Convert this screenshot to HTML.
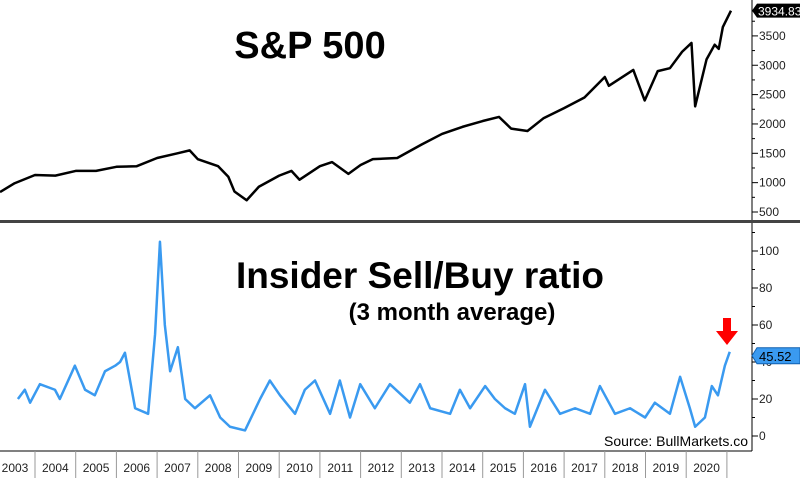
<!DOCTYPE html>
<html><head><meta charset="utf-8"><style>
body{margin:0;background:#fff;}
svg{display:block;font-family:"Liberation Sans",Arial,sans-serif;}
</style></head><body>
<svg id="c" width="800" height="478"></svg>
<script>
const spDates=[2003.14,2003.5,2004,2004.5,2005,2005.5,2006,2006.5,2007,2007.5,2007.8,2008,2008.5,2008.75,2008.9,2009.2,2009.5,2010,2010.3,2010.5,2011,2011.3,2011.7,2012,2012.3,2012.9,2013.5,2014,2014.5,2015,2015.4,2015.7,2016.1,2016.5,2017,2017.5,2018,2018.1,2018.7,2018.98,2019.3,2019.6,2019.9,2020.13,2020.22,2020.5,2020.7,2020.8,2020.9,2021.1];
const spValues=[840,990,1130,1120,1200,1200,1270,1280,1420,1500,1550,1400,1280,1100,850,700,930,1120,1200,1050,1280,1350,1150,1300,1400,1420,1650,1830,1950,2050,2120,1920,1880,2100,2270,2450,2800,2650,2920,2400,2900,2950,3230,3380,2300,3100,3350,3280,3650,3930];
const insDates=[2003.58,2003.75,2003.88,2004.12,2004.49,2004.61,2004.98,2005.23,2005.47,2005.72,2005.97,2006.09,2006.21,2006.46,2006.78,2006.95,2007.07,2007.19,2007.32,2007.51,2007.69,2007.93,2008.30,2008.55,2008.79,2009.16,2009.53,2009.77,2010.02,2010.39,2010.63,2010.88,2011.25,2011.49,2011.74,2011.99,2012.35,2012.72,2013.21,2013.46,2013.71,2014.20,2014.44,2014.69,2015.06,2015.30,2015.55,2015.79,2016.04,2016.16,2016.53,2016.90,2017.27,2017.64,2017.88,2018.25,2018.62,2018.99,2019.23,2019.60,2019.85,2020.09,2020.22,2020.46,2020.63,2020.78,2020.95,2021.07];
const insValues=[20,25,18,28,25,20,38,25,22,35,38,40,45,15,12,55,105,60,35,48,20,15,22,10,5,3,20,30,22,12,25,30,12,30,10,28,15,28,18,28,15,12,25,15,27,20,15,12,28,5,25,12,15,12,27,12,15,10,18,12,32,15,5,10,27,22,38,45.52];
const spTicks=[500,1000,1500,2000,2500,3000,3500];
const insTicks=[0,20,40,60,80,100];
const years=[2003,2004,2005,2006,2007,2008,2009,2010,2011,2012,2013,2014,2015,2016,2017,2018,2019,2020];
const NS="http://www.w3.org/2000/svg";
const svg=document.getElementById('c');
function mk(t,a,p){const e=document.createElementNS(NS,t);for(const k in a)e.setAttribute(k,a[k]);(p||svg).appendChild(e);return e;}
const xS=t=>35+(t-2004)*40.7;
const ySp=v=>212-(v-500)*0.0587;
const yIns=v=>436-v*1.85;
let e;
e=mk('line',{x1:752,y1:0,x2:752,y2:451,stroke:'#000','stroke-width':1});

e=mk('rect',{x:0,y:220,width:800,height:3,fill:'#444'});

e=mk('line',{x1:0,y1:451,x2:752,y2:451,stroke:'#000'});

for(let v=500;v<=3750;v+=250){const y=ySp(v);e=mk('line',{x1:752,y1:y,x2:v%500==0?758:755,y2:y,stroke:'#000'});}
for(let v=0;v<=110;v+=10){const y=yIns(v);e=mk('line',{x1:752,y1:y,x2:v%20==0?758:755,y2:y,stroke:'#000'});}
spTicks.forEach(v=>{e=mk('text',{x:759,y:ySp(v)+4,'font-size':12,fill:'#222'});e.textContent=v;});
insTicks.forEach(v=>{e=mk('text',{x:759,y:yIns(v)+4,'font-size':12,fill:'#222'});e.textContent=v;});
years.forEach(y=>{const x0=Math.max(0,xS(y)),x1=xS(y+1);
 if(y>2003){e=mk('line',{x1:x0,y1:451,x2:x0,y2:478,stroke:'#999'});}
 e=mk('text',{x:y==2003?15:(x0+x1)/2,y:472,'font-size':12,'text-anchor':'middle',fill:'#222'});e.textContent=y;});
e=mk('line',{x1:xS(2021),y1:451,x2:xS(2021),y2:478,stroke:'#999'});
e=mk('polyline',{points:spDates.map((d,i)=>xS(d)+','+ySp(spValues[i])).join(' '),fill:'none',stroke:'#000','stroke-width':2.5,'stroke-linejoin':'round'});

e=mk('polyline',{points:insDates.map((d,i)=>xS(d)+','+yIns(insValues[i])).join(' '),fill:'none',stroke:'#3a9af0','stroke-width':2.5,'stroke-linejoin':'round'});

e=mk('text',{x:310,y:58,'font-size':38,'font-weight':'bold','text-anchor':'middle'});e.textContent='S&P 500';
e=mk('text',{x:420,y:288,'font-size':37,'font-weight':'bold','text-anchor':'middle'});e.textContent='Insider Sell/Buy ratio';
e=mk('text',{x:452,y:320,'font-size':24,'font-weight':'bold','text-anchor':'middle'});e.textContent='(3 month average)';
e=mk('text',{x:748,y:446,'font-size':14,'text-anchor':'end'});e.textContent='Source: BullMarkets.co';
const ly=ySp(spValues[spValues.length-1]);
e=mk('path',{d:`M752,${ly} l5,-7 h43 v14 h-43 z`,fill:'#000'});
e=mk('text',{x:758,y:ly+5,'font-size':12,fill:'#fff'});e.textContent='3934.83';
const iy=yIns(insValues[insValues.length-1])+4;
e=mk('path',{d:`M752,${iy} l5,-8 h43 v16 h-43 z`,fill:'#3a9af0',stroke:'#1060b0'});
e=mk('text',{x:759,y:iy+5,'font-size':13,fill:'#000'});e.textContent=insValues[insValues.length-1].toFixed(2);
e=mk('path',{d:'M723,318 h8 v13 h7 l-11,14 l-11,-14 h7 z',fill:'#f00'});
</script>
</body></html>
